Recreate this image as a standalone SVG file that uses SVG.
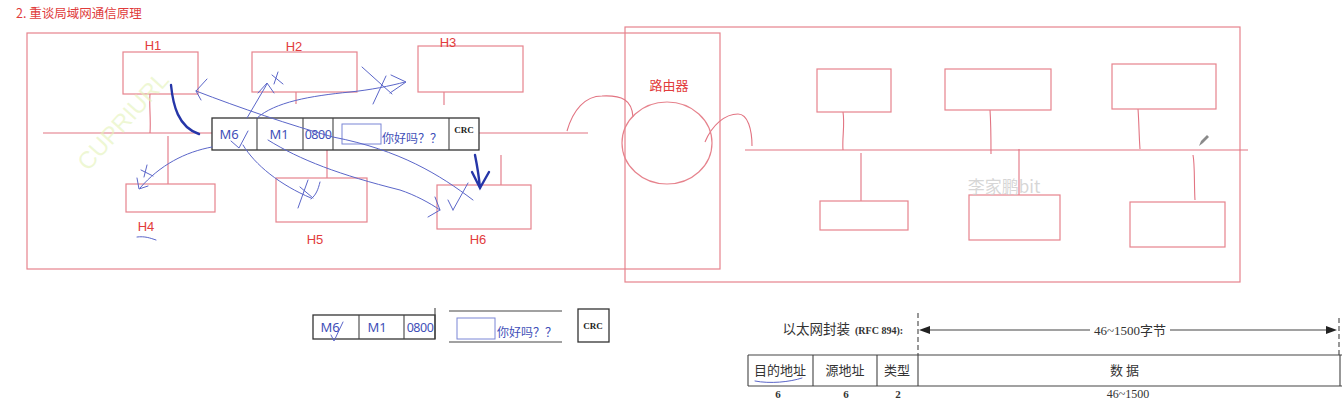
<svg xmlns="http://www.w3.org/2000/svg" width="1342" height="407" viewBox="0 0 1342 407">
<style>
.fr{fill:none;stroke:#e6838d;stroke-width:1.2}
.bx{fill:#fff;stroke:#e6838d;stroke-width:1.2}
.ln{fill:none;stroke:#e27482;stroke-width:1.1}
.lbl{font-family:"Liberation Sans","Noto Sans",sans-serif;font-size:13px;fill:#e23c3c;text-anchor:middle}
.cn{font-family:"Noto Sans CJK SC",sans-serif;font-size:13px;fill:#e23c3c;text-anchor:middle}
.blu{font-family:"Noto Sans","Noto Sans CJK SC",sans-serif;font-size:13px;fill:#3f4fb8}
.crc{font-family:"Liberation Serif",serif;font-weight:bold;font-size:9px;fill:#222;text-anchor:middle}
.fb{fill:#fff;stroke:#333;stroke-width:1.3}
.dv{stroke:#444;stroke-width:1.1}
.pen{fill:none;stroke:#5b66c9;stroke-width:1;stroke-linecap:round}
.thick{fill:none;stroke:#2636a8;stroke-width:2.4;stroke-linecap:round}
.eth{font-family:"Liberation Serif","Noto Sans CJK SC",serif;fill:#333}
.num{font-family:"Liberation Serif",serif;font-weight:bold;font-size:11px;fill:#333;text-anchor:middle}
.tl{stroke:#444;stroke-width:1.1;fill:none}
</style>

<text x="16" y="18" font-family="Noto Sans CJK SC, sans-serif" font-size="12.5" fill="#e03c3c">2. 重谈局域网通信原理</text>

<g id="lan-left">
<rect class="fr" x="27" y="33" width="693" height="236"/>
</g>
<g id="lan-right">
<rect class="fr" x="625" y="27" width="615" height="255"/>
</g>

<g id="connectors">
<path class="ln" d="M43,133 H212 M479,133 H588"/>
<path class="ln" d="M150,94 C149,105 151,118 150,133"/>
<path class="ln" d="M296,92 V104"/>
<path class="ln" d="M444,92 V105"/>
<path class="ln" d="M168,136 V184"/>
<path class="ln" d="M327,150 V178"/>
<path class="ln" d="M501,155 V185"/>
<path class="ln" d="M567,131 C573,110 585,96 602,96 C622,95 632,100 633,117"/>
<path class="ln" d="M705,142 C712,125 725,114 738,114 C748,114 752,130 752,146"/>
<path class="ln" d="M745,150 H1248"/>
<path class="ln" d="M843,112 C845,125 842,138 843,150"/>
<path class="ln" d="M990,110 C991,125 991,140 991,154"/>
<path class="ln" d="M1138,109 C1139,122 1139,136 1140,149"/>
<path class="ln" d="M861,153 V201"/>
<path class="ln" d="M1019,149 V199"/>
<path class="ln" d="M1193,155 C1195,165 1194,185 1195,200"/>
</g>

<g id="H1"><rect class="bx" x="123" y="52" width="75" height="42"/><text class="lbl" x="153" y="50">H1</text></g>
<g id="H2"><rect class="bx" x="252" y="52" width="105" height="40"/><text class="lbl" x="294" y="51">H2</text></g>
<g id="H3"><rect class="bx" x="418" y="46" width="105" height="46"/><text class="lbl" x="448" y="47">H3</text></g>
<g id="H4"><rect class="bx" x="126" y="184" width="89" height="28"/><text class="lbl" x="146" y="231">H4</text></g>
<g id="H5"><rect class="bx" x="276" y="178" width="91" height="44"/><text class="lbl" x="315" y="244">H5</text></g>
<g id="H6"><rect class="bx" x="437" y="185" width="94" height="44"/><text class="lbl" x="478" y="244">H6</text></g>

<g id="router">
<text class="cn" x="669" y="90">路由器</text>
<ellipse class="fr" cx="667" cy="143" rx="45" ry="41"/>
</g>

<g id="R1"><rect class="bx" x="817" y="69" width="74" height="43"/></g>
<g id="R2"><rect class="bx" x="945" y="69" width="106" height="41"/></g>
<g id="R3"><rect class="bx" x="1112" y="64" width="104" height="45"/></g>
<g id="R4"><rect class="bx" x="820" y="201" width="88" height="29"/></g>
<g id="R5"><rect class="bx" x="969" y="195" width="91" height="45"/></g>
<g id="R6"><rect class="bx" x="1130" y="202" width="95" height="45"/></g>

<g id="frame-top">
<rect class="fb" x="212" y="118" width="267" height="32"/>
<path class="dv" d="M257,118 V150 M303,118 V150 M333,118 V150 M449,118 V150"/>
<text class="blu" x="229" y="139" style="text-anchor:middle">M6</text>
<text class="blu" x="279" y="139" style="text-anchor:middle">M1</text>
<text class="blu" x="318" y="139" style="text-anchor:middle;font-size:12.5px;letter-spacing:-0.5px">0800</text>
<rect x="342" y="124" width="39" height="20" fill="none" stroke="#7b86d6" stroke-width="1"/>
<text class="blu" x="382" y="143" style="font-size:12px">你好吗？？</text>
<text class="crc" x="464" y="133">CRC</text>
</g>

<g id="frame-bottom">
<rect class="fb" x="313" y="315" width="122" height="24"/>
<path class="dv" d="M359,315 V339 M404,315 V339 M435,308 V339"/>
<text class="blu" x="330" y="332" style="text-anchor:middle">M6</text>
<text class="blu" x="377" y="332" style="text-anchor:middle">M1</text>
<text class="blu" x="420" y="332" style="text-anchor:middle;font-size:12.5px;letter-spacing:-0.5px">0800</text>
<path class="tl" d="M449,311 H562 M449,342 H562"/>
<rect x="457" y="318" width="38" height="21" fill="none" stroke="#7b86d6" stroke-width="1"/>
<text class="blu" x="497" y="337" style="font-size:12px">你好吗？？</text>
<rect class="fb" x="578" y="309" width="31" height="33"/>
<text class="crc" x="593" y="329">CRC</text>
</g>

<g id="ethernet">
<text class="eth" x="850" y="334" style="font-size:13.5px;text-anchor:end">以太网封装</text>
<text class="eth" x="855" y="334" style="font-size:10px;font-weight:bold">(RFC 894):</text>
<path class="tl" d="M918,313 V355" stroke-dasharray="5,3"/>
<path class="tl" d="M1339,318 V355" stroke-dasharray="5,3"/>
<path class="tl" d="M928,330 H1090 M1170,330 H1328"/>
<polygon points="919,330 930,326 930,334" fill="#222"/>
<polygon points="1337,330 1326,326 1326,334" fill="#222"/>
<text class="eth" x="1130" y="335" style="font-size:13px;text-anchor:middle">46~1500字节</text>
<path class="tl" d="M748,355 H1342 M748,386 H1342 M748,355 V386 M813,355 V386 M877,355 V386 M918,355 V386 M1340,355 V386"/>
<text class="eth" x="780" y="375" style="font-size:13px;text-anchor:middle">目的地址</text>
<text class="eth" x="845" y="375" style="font-size:13px;text-anchor:middle">源地址</text>
<text class="eth" x="897" y="375" style="font-size:13px;text-anchor:middle">类型</text>
<text class="eth" x="1126" y="375" style="font-size:13px;text-anchor:middle;letter-spacing:3px">数据</text>
<text class="num" x="778" y="398">6</text>
<text class="num" x="846" y="398">6</text>
<text class="num" x="898" y="398">2</text>
<text class="eth" x="1128" y="398" style="font-size:12px;text-anchor:middle">46~1500</text>
</g>

<g id="annotations">
<path class="thick" d="M171,85 C173,105 178,127 199,134"/>
<path class="thick" d="M475,155 C477,165 479,177 480,188 M472,172 L480,188 L489,172"/>
<path class="pen" d="M473,200 C440,175 400,150 333,137 C290,125 240,108 196,91 M207,79 L196,91 L201,100"/>
<path class="pen" d="M247,118 L267,84 M258,93 L267,83 L274,93 M272,75 L283,84 M274,84 L278,72"/>
<path class="pen" d="M257,118 C275,102 310,96 350,92 C370,90 390,86 405,82 M391,75 L406,82 L390,93 M362,67 L392,94 M373,104 L386,76"/>
<path class="pen" d="M212,147 C185,152 160,165 140,188 M137,178 L139,189 L148,186 M141,170 L153,176 M147,165 L144,177"/>
<path class="pen" d="M243,145 C255,165 280,185 311,198 M298,208 L308,180 M300,187 L313,198 M320,182 C318,190 316,195 311,199"/>
<path class="pen" d="M231,141 L239,148 L248,131"/>
<path class="pen" d="M268,140 C300,160 340,175 400,190 C415,195 430,203 440,210 M435,197 L440,210 L428,217"/>
<path class="pen" d="M453,210 L468,183 M448,200 L453,210"/>
<path class="pen" d="M137,237 C145,236 150,238 156,240"/>
<path class="pen" d="M331,335 L334,341 L343,322"/>
<path class="pen" d="M755,381 C770,384 790,382 802,378"/>
<path d="M1199,146 L1201,141 L1207,135 L1209,137 L1203,143 Z" fill="#8a8a8a"/>
</g>

<text x="0" y="0" transform="translate(88,172) rotate(-48)" font-family="Liberation Sans, sans-serif" font-size="24" fill="#e4f3b8" fill-opacity="0.6">CUPRIURL</text>
<text x="1004" y="193" font-family="Noto Sans CJK SC, sans-serif" font-size="17" fill="#cfcfcf" fill-opacity="0.85" text-anchor="middle">李家鹏bit</text>
</svg>
